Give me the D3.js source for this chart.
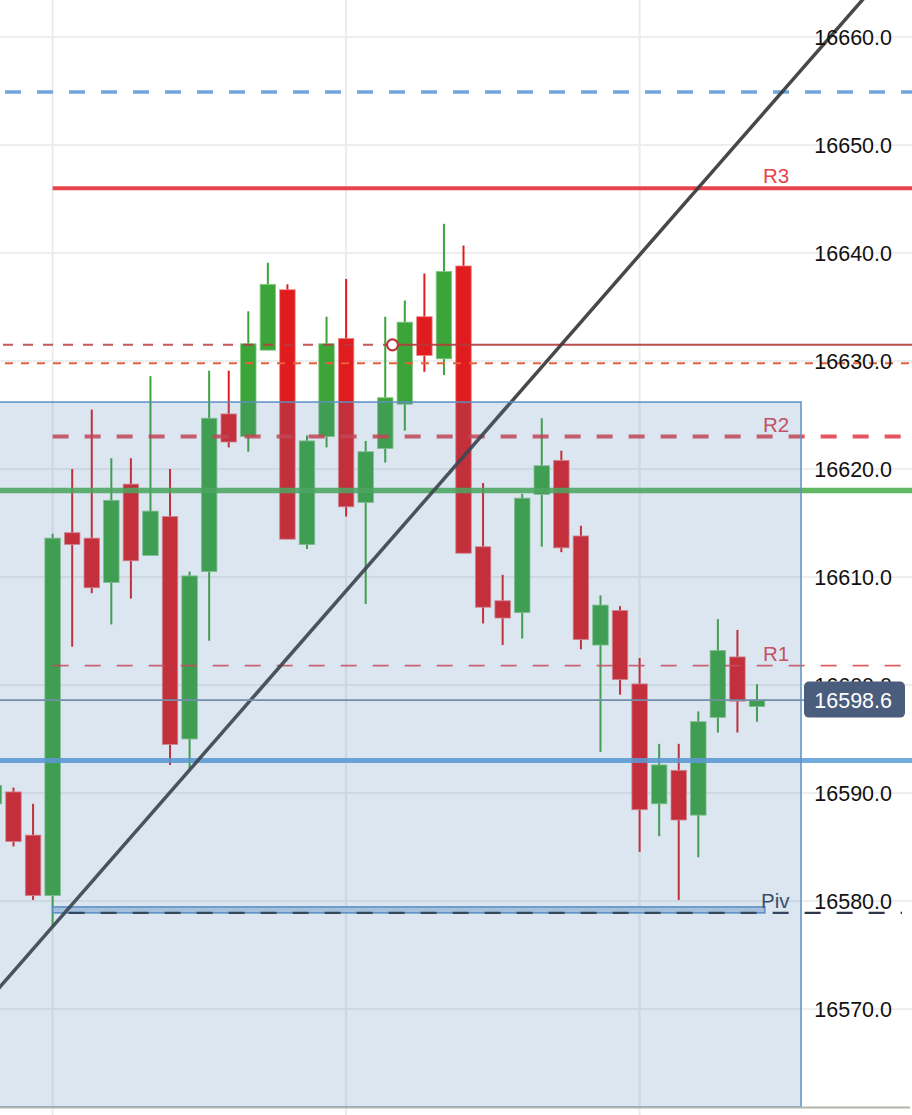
<!DOCTYPE html>
<html><head><meta charset="utf-8">
<script src="https://cdn.jsdelivr.net/npm/d3@7"></script>
<style>
html,body{margin:0;padding:0;background:#fff;}
svg{display:block;font-family:"Liberation Sans",Arial,Helvetica,sans-serif;}
</style>
</head><body><div id="chart"></div>
<script>
// ---- data ----
const candleIndex = d3.range(-1, 39);
const opens  = [16589.0,16590.1,16586.1,16580.5,16614.1,16613.6,16609.5,16618.6,16612.0,16615.6,16595.0,16610.5,16625.1,16623.0,16631.0,16636.6,16613.0,16623.0,16632.1,16616.9,16621.9,16626.0,16634.1,16630.2,16638.8,16612.8,16607.8,16606.7,16617.65,16620.8,16613.8,16603.7,16606.9,16600.1,16589.0,16592.1,16587.95,16597.0,16602.6,16598.0];
const highs  = [16590.7,16590.5,16589.0,16614.0,16620.0,16625.5,16621.0,16621.0,16628.6,16620.0,16610.5,16629.1,16629.1,16634.6,16639.1,16637.1,16623.1,16634.1,16637.6,16622.6,16634.1,16635.6,16638.1,16642.7,16640.7,16618.7,16610.2,16617.7,16624.7,16621.7,16614.75,16608.3,16607.3,16602.5,16594.55,16594.55,16597.55,16606.1,16605.1,16600.06];
const lows   = [16589.0,16585.05,16580.1,16577.7,16603.55,16608.5,16605.6,16608.0,16612.0,16592.6,16592.25,16604.1,16622.0,16621.6,16631.0,16613.5,16612.6,16622.0,16615.6,16607.5,16620.6,16623.55,16629.0,16628.7,16612.2,16605.7,16603.7,16604.3,16612.8,16612.3,16603.3,16593.8,16599.1,16584.55,16586.0,16580.1,16584.05,16595.6,16595.6,16596.6];
const closes = [16590.7,16585.5,16580.5,16613.6,16613.0,16609.0,16617.1,16611.5,16616.1,16594.5,16610.1,16624.7,16622.5,16631.6,16637.1,16613.5,16622.6,16631.6,16616.5,16621.6,16626.6,16633.6,16630.5,16638.3,16612.2,16607.2,16606.2,16617.3,16620.3,16612.7,16604.2,16607.4,16600.5,16588.45,16592.6,16587.5,16596.6,16603.2,16598.5,16598.6];

const priceTicks = [16570,16580,16590,16600,16610,16620,16630,16640,16650,16660];
const timeGridIndex = [2,17,32];

const levelNames  = ["R3","R2","R1","Piv"];
const levelValues = [16646.0,16623.0,16601.8,16578.9];
const levelStartIndex = 2;
const upperBlueDashed = 16654.9;
const alertLevel = 16631.5, alertIndex = 19.37;
const orangeLevel = 16629.8;
const greenLevel = 16618.0;
const blueLevel = 16593.0;
const lastPrice = 16598.6;
const zoneTop = 16626.2, zoneEndIndex = 40.25;
const pivBandTop = 16579.45, pivBandEndIndex = 38.4;
const trendStart = [-1, 16571.4], trendEnd = [44, 16664.7];

// ---- drawing ----
const W = 912, H = 1115, plotBottom = 1107, axisRight = 892;
const svg = d3.select("#chart").append("svg").attr("width", W).attr("height", H);
svg.append("rect").attr("width", W).attr("height", H).attr("fill", "#fff");

const x = d3.scaleLinear().domain([0, 38]).range([13.5, 757]);
const y = d3.scaleLinear().domain([16570, 16660]).range([1009, 37]);
const bodyW = 15.5;

// grid
svg.append("g").selectAll("line").data(priceTicks).join("line")
  .attr("x1", 0).attr("x2", W).attr("y1", d => y(d)).attr("y2", d => y(d))
  .attr("stroke", "#e9e9e9").attr("stroke-width", 1.5);
svg.append("g").selectAll("line").data(timeGridIndex).join("line")
  .attr("x1", d => x(d)).attr("x2", d => x(d)).attr("y1", 0).attr("y2", H)
  .attr("stroke", "#ececec").attr("stroke-width", 2);

// candles
const candles = candleIndex.map((i, k) => ({i, o: opens[k], h: highs[k], l: lows[k], c: closes[k]}));
const up = "#3ca53a", down = "#e01c1e";
const cg = svg.append("g");
cg.selectAll("line").data(candles).join("line")
  .attr("x1", d => x(d.i)).attr("x2", d => x(d.i))
  .attr("y1", d => y(d.h)).attr("y2", d => y(d.l))
  .attr("stroke", d => d.c >= d.o ? up : down).attr("stroke-width", 2);
cg.selectAll("rect").data(candles).join("rect")
  .attr("x", d => x(d.i) - bodyW / 2).attr("width", bodyW)
  .attr("y", d => y(Math.max(d.o, d.c)))
  .attr("height", d => Math.max(1.5, Math.abs(y(d.o) - y(d.c))))
  .attr("fill", d => d.c >= d.o ? up : down)
  .attr("stroke", d => d.c >= d.o ? "#8ccc8a" : "#ee8a8c").attr("stroke-width", 0.8);

// level lines
const lg = svg.append("g");
lg.append("line").attr("x1", 5).attr("x2", W).attr("y1", y(upperBlueDashed)).attr("y2", y(upperBlueDashed))
  .attr("stroke", "#6fa6da").attr("stroke-width", 3.5).attr("stroke-dasharray", "16 16");
lg.append("line").attr("x1", 3).attr("x2", x(alertIndex)).attr("y1", y(alertLevel)).attr("y2", y(alertLevel))
  .attr("stroke", "#b83a40").attr("stroke-opacity", 0.85).attr("stroke-width", 2).attr("stroke-dasharray", "10 10");
lg.append("line").attr("x1", x(alertIndex)).attr("x2", W).attr("y1", y(alertLevel)).attr("y2", y(alertLevel))
  .attr("stroke", "#b53a3a").attr("stroke-opacity", 0.9).attr("stroke-width", 2);
lg.append("line").attr("x1", 5).attr("x2", W).attr("y1", y(orangeLevel)).attr("y2", y(orangeLevel))
  .attr("stroke", "#e8603a").attr("stroke-width", 2).attr("stroke-dasharray", "8 8");
lg.append("line").attr("x1", 0).attr("x2", W).attr("y1", y(greenLevel)).attr("y2", y(greenLevel))
  .attr("stroke", "#4cae4c").attr("stroke-opacity", 0.88).attr("stroke-width", 5.5);
lg.append("line").attr("x1", 0).attr("x2", W).attr("y1", y(blueLevel)).attr("y2", y(blueLevel))
  .attr("stroke", "#5e9fda").attr("stroke-opacity", 0.88).attr("stroke-width", 5);
lg.append("line").attr("x1", x(levelStartIndex)).attr("x2", W).attr("y1", y(levelValues[0])).attr("y2", y(levelValues[0]))
  .attr("stroke", "#e63b42").attr("stroke-opacity", 0.95).attr("stroke-width", 4);
lg.append("line").attr("x1", x(levelStartIndex)).attr("x2", 902).attr("y1", y(levelValues[1])).attr("y2", y(levelValues[1]))
  .attr("stroke", "#e0353f").attr("stroke-opacity", 0.85).attr("stroke-width", 4).attr("stroke-dasharray", "16 16");
lg.append("line").attr("x1", x(levelStartIndex)).attr("x2", 902).attr("y1", y(levelValues[2])).attr("y2", y(levelValues[2]))
  .attr("stroke", "#e0404a").attr("stroke-opacity", 0.85).attr("stroke-width", 1.8).attr("stroke-dasharray", "16 16");
lg.append("rect").attr("x", x(levelStartIndex)).attr("width", x(pivBandEndIndex) - x(levelStartIndex))
  .attr("y", y(pivBandTop)).attr("height", y(levelValues[3]) - y(pivBandTop))
  .attr("fill", "#b9d0e8").attr("stroke", "#5b8ec4").attr("stroke-width", 1.5);
lg.append("line").attr("x1", x(levelStartIndex)).attr("x2", 902).attr("y1", y(levelValues[3])).attr("y2", y(levelValues[3]))
  .attr("stroke", "#2a384a").attr("stroke-width", 2.2).attr("stroke-dasharray", "16 16").attr("stroke-dashoffset", 16);

// trend line
svg.append("line")
  .attr("x1", x(trendStart[0])).attr("y1", y(trendStart[1]))
  .attr("x2", x(trendEnd[0])).attr("y2", y(trendEnd[1]))
  .attr("stroke", "#383838").attr("stroke-opacity", 0.92).attr("stroke-width", 3.5);

// last price line
svg.append("line").attr("x1", 0).attr("x2", 806).attr("y1", y(lastPrice)).attr("y2", y(lastPrice))
  .attr("stroke", "#7d90a6").attr("stroke-width", 1.8);

// alert marker
svg.append("circle").attr("cx", x(alertIndex)).attr("cy", y(alertLevel)).attr("r", 5.5)
  .attr("fill", "#fff").attr("stroke", "#c0353a").attr("stroke-width", 2.2);

// level labels
const labelColors = ["#e8434a", "#e04550", "#e04550", "#344354"];
svg.append("g").selectAll("text").data(levelNames).join("text")
  .attr("x", (d, k) => k === 3 ? 761 : 763)
  .attr("y", (d, k) => y(levelValues[k]) - 5)
  .attr("fill", (d, k) => labelColors[k])
  .attr("font-size", 20.5).text(d => d);

// zone overlay
svg.append("rect").attr("x", -5).attr("y", y(zoneTop))
  .attr("width", x(zoneEndIndex) + 5).attr("height", plotBottom - y(zoneTop))
  .attr("fill", "rgb(80,130,180)").attr("fill-opacity", 0.2)
  .attr("stroke", "#5d8fc3").attr("stroke-width", 1.5);

// bottom border
svg.append("line").attr("x1", 0).attr("x2", 910).attr("y1", plotBottom + 0.5).attr("y2", plotBottom + 0.5)
  .attr("stroke", "#b3b3ab").attr("stroke-width", 2);

// price axis labels (the tick hidden behind the last-price tag is clipped by the tag)
svg.append("g").selectAll("text").data(priceTicks).join("text")
  .attr("x", axisRight).attr("y", d => y(d)).attr("dy", "0.36em")
  .attr("text-anchor", "end").attr("font-size", 21.5).attr("fill", "#111")
  .text(d => d.toFixed(1));

// last price tag
const tag = svg.append("g");
tag.append("rect").attr("x", 804).attr("y", y(lastPrice) - 18.5).attr("width", 101).attr("height", 36).attr("rx", 5)
  .attr("fill", "#4b5d7c");
tag.append("text").attr("x", axisRight).attr("y", y(lastPrice)).attr("dy", "0.36em")
  .attr("text-anchor", "end").attr("font-size", 21.5).attr("fill", "#fff").text(lastPrice.toFixed(1));
</script></body></html>
